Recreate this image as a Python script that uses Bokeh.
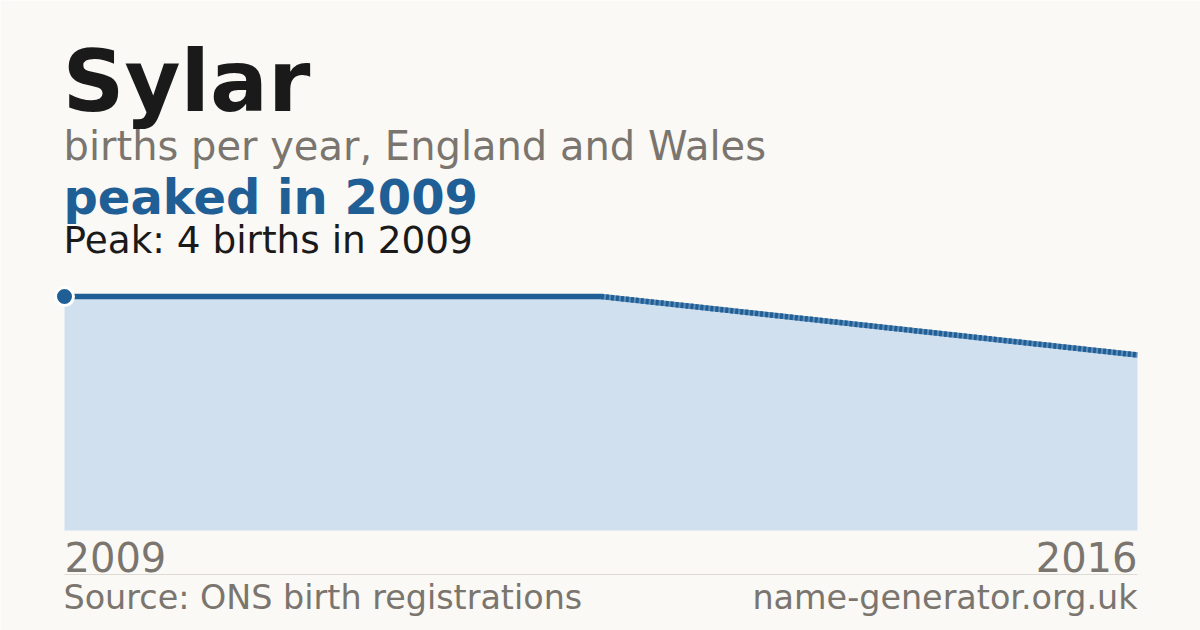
from bokeh.plotting import figure
from bokeh.models import Label, Range1d
from bokeh.embed import file_html
from bokeh.resources import INLINE

# ---- data ----
years = [2009, 2010, 2016]
births = [4, 4, 3]
tick_labels = ["2009", "2016"]

name = "Sylar"
subtitle = "births per year, England and Wales"
headline = "peaked in 2009"
peak_note = "Peak: 4 births in 2009"
source = "Source: ONS birth registrations"
site = "name-generator.org.uk"

# ---- style ----
BG = "#faf9f5"
BLUE = "#1f5f96"
FILL = "#d0e0ef"
GREY = "#7a756e"
DARK = "#1a1a1a"
FONT = "DejaVu Sans"

W, H = 1200, 630
left_px, right_px = 64, 1137          # canvas x of first / last point
base_px = 100                         # canvas px (from bottom) of y = 0
unit_px = 58.5                        # px per birth
K = 0.35                              # baseline correction (fraction of font size)

idx = list(range(len(years)))
n = len(idx) - 1
xscale = (right_px - left_px) / n

p = figure(width=W, height=H, output_backend="svg", toolbar_location=None,
           min_border=0, min_border_left=0, min_border_right=0,
           min_border_top=0, min_border_bottom=0)
p.x_range = Range1d(-left_px / xscale, n + (W - right_px) / xscale)
p.y_range = Range1d(-base_px / unit_px, (H - base_px) / unit_px)
p.axis.visible = False
p.grid.visible = False
p.outline_line_color = None
p.background_fill_color = BG
p.border_fill_color = BG

# area
p.varea(x=idx, y1=[0] * len(idx), y2=births, fill_color=FILL)

# solid part (first two points) and dashed tail
p.line(x=idx[:2], y=births[:2], line_color=BLUE, line_width=5.5)
p.line(x=idx[1:], y=births[1:], line_color="#5d8cb9", line_width=5.5)
p.line(x=idx[1:], y=births[1:], line_color=BLUE, line_width=5.5, line_dash="3 2")

# peak marker
pk = births.index(max(births))
p.scatter(x=[idx[pk]], y=[births[pk]], size=18, fill_color=BLUE,
          line_color="white", line_width=3)

# separator line under year labels
sep_y = -44 / unit_px
p.segment(x0=[idx[0]], x1=[idx[-1]], y0=[sep_y], y1=[sep_y],
          line_color="#dedbd4", line_width=1)

# year labels at the ends of the axis
lab_y = -(40 - K * 40) / unit_px
for xi, txt, al in [(idx[0], tick_labels[0], "left"), (idx[-1], tick_labels[1], "right")]:
    p.add_layout(Label(x=xi, y=lab_y, text=txt, text_align=al,
                       text_baseline="alphabetic", text_font=FONT,
                       text_font_size="40px", text_color=GREY))

def screen_label(text, x, baseline_from_top, size, color, bold=False, align="left"):
    y = H - baseline_from_top + K * size
    p.add_layout(Label(x=x, y=y, x_units="screen", y_units="screen", text=text,
                       text_align=align, text_baseline="alphabetic",
                       text_font=FONT, text_font_size="%.1fpx" % size,
                       text_color=color,
                       text_font_style="bold" if bold else "normal"))

screen_label(name, left_px - 2, 111, 86, DARK, bold=True)
screen_label(subtitle, left_px - 1, 159, 40, GREY)
screen_label(headline, left_px - 1, 213, 48, BLUE, bold=True)
screen_label(peak_note, left_px - 1, 252.5, 37.4, DARK)
screen_label(source, left_px - 1, 609, 33.4, GREY)
screen_label(site, right_px, 609, 33.4, GREY, align="right")

html = file_html(p, INLINE)
html = html.replace("<body>", '<body style="background:%s">' % BG, 1)
open("out.html", "w").write(html)
